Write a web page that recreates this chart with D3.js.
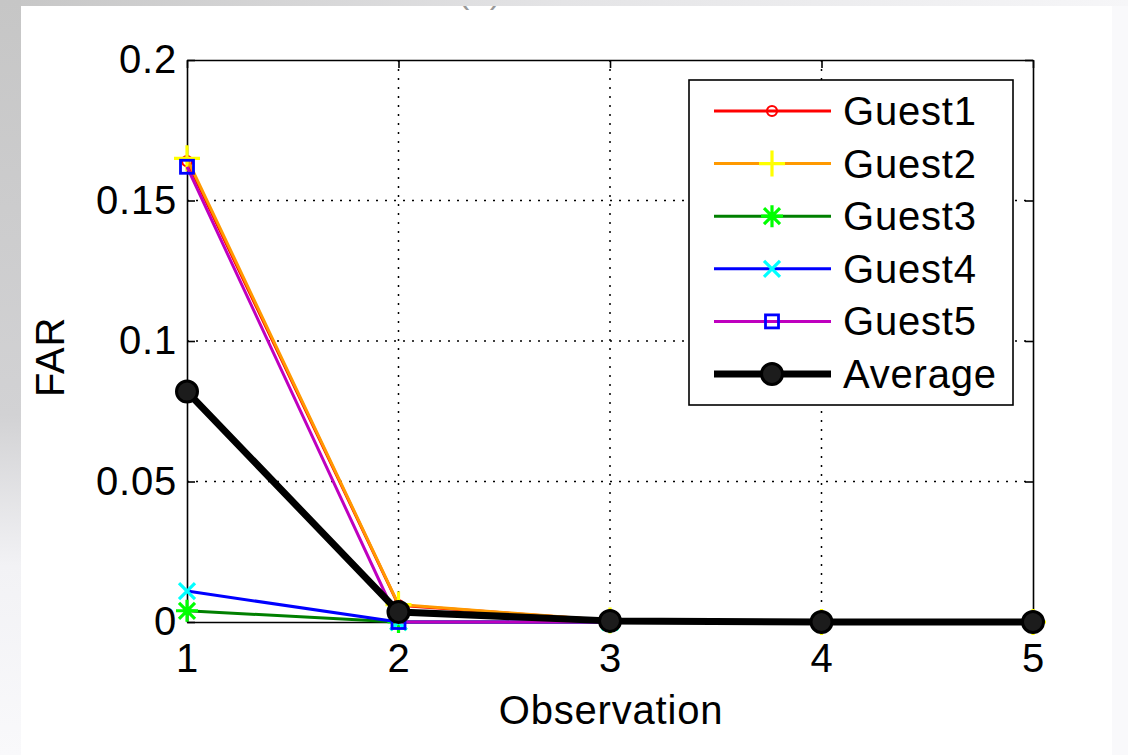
<!DOCTYPE html>
<html>
<head>
<meta charset="utf-8">
<script src="https://cdn.jsdelivr.net/npm/d3@7/dist/d3.min.js"></script>
<style>
  html, body { margin: 0; padding: 0; background: #fff; }
  svg { display: block; }
  text { font-family: "Liberation Sans", Arial, sans-serif; fill: #000; letter-spacing: 0.8px; }
</style>
</head>
<body>
<svg id="chart" width="1128" height="755"></svg>
<script>
// Observations on the x axis
const observations = [1, 2, 3, 4, 5];

// False acceptance rate per guest and their average
const guest1 = [0.164, 0.006, 0.0005, 0, 0];
const guest2 = [0.165, 0.0062, 0.0005, 0, 0];
const guest3 = [0.004, 0, 0, 0, 0];
const guest4 = [0.011, 0, 0, 0, 0];
const guest5 = [0.162, 0, 0, 0, 0];
const average = [0.082, 0.0036, 0.0004, 0, 0];

const seriesNames = ["Guest1", "Guest2", "Guest3", "Guest4", "Guest5", "Average"];
const xTicks = [1, 2, 3, 4, 5];
const yTicks = [0, 0.05, 0.1, 0.15, 0.2];
const yTickLabels = ["0", "0.05", "0.1", "0.15", "0.2"];

const series = [
  { name: seriesNames[0], values: guest1, line: "#ff0000", mark: "#ff0000", shape: "circle", width: 3 },
  { name: seriesNames[1], values: guest2, line: "#ff9900", mark: "#ffff00", shape: "plus", width: 3 },
  { name: seriesNames[2], values: guest3, line: "#008000", mark: "#00ff00", shape: "star", width: 3 },
  { name: seriesNames[3], values: guest4, line: "#0000ff", mark: "#00ffff", shape: "cross", width: 3 },
  { name: seriesNames[4], values: guest5, line: "#bf00bf", mark: "#0000ff", shape: "square", width: 3 },
  { name: seriesNames[5], values: average, line: "#000000", mark: "#000000", shape: "dot", width: 7 }
];

const FONT = 40;

const svg = d3.select("#chart");
const defs = svg.append("defs");

// Backdrop: grey frame around a white sheet
const leftGrad = defs.append("linearGradient").attr("id", "leftGrad")
  .attr("x1", 0).attr("y1", 0).attr("x2", 0).attr("y2", 1);
leftGrad.append("stop").attr("offset", "0%").attr("stop-color", "#c6c6c6");
leftGrad.append("stop").attr("offset", "55%").attr("stop-color", "#d2d2d4");
leftGrad.append("stop").attr("offset", "75%").attr("stop-color", "#f2f2f5");
leftGrad.append("stop").attr("offset", "100%").attr("stop-color", "#f9f9fb");
const topGrad = defs.append("linearGradient").attr("id", "topGrad")
  .attr("x1", 0).attr("y1", 0).attr("x2", 1).attr("y2", 0);
topGrad.append("stop").attr("offset", "0%").attr("stop-color", "#c6c6c6");
topGrad.append("stop").attr("offset", "50%").attr("stop-color", "#e4e4e6");
topGrad.append("stop").attr("offset", "100%").attr("stop-color", "#f6f6f8");

svg.append("rect").attr("x", 0).attr("y", 0).attr("width", 1128).attr("height", 755).attr("fill", "#f9f9fb");
svg.append("rect").attr("x", 0).attr("y", 0).attr("width", 1128).attr("height", 6).attr("fill", "url(#topGrad)");
svg.append("rect").attr("x", 0).attr("y", 0).attr("width", 21).attr("height", 755).attr("fill", "url(#leftGrad)");

const sheet = { x: 21, y: 6, w: 1091, h: 749 };
defs.append("clipPath").attr("id", "sheetClip").append("rect")
  .attr("x", sheet.x).attr("y", sheet.y).attr("width", sheet.w).attr("height", sheet.h);
const page = svg.append("g").attr("clip-path", "url(#sheetClip)");
page.append("rect").attr("x", sheet.x).attr("y", sheet.y).attr("width", sheet.w).attr("height", sheet.h).attr("fill", "#fff");

// Panel caption, mostly above the sheet edge
page.append("text").attr("x", 480).attr("y", 3).attr("text-anchor", "middle")
  .attr("font-size", 34).style("fill", "#999").text("(a)");

const plot = { left: 187, right: 1033, top: 60, bottom: 622 };
const x = d3.scaleLinear().domain([1, 5]).range([plot.left, plot.right]);
const y = d3.scaleLinear().domain([0, 0.2]).range([plot.bottom, plot.top]);

const g = page.append("g");

// Dotted grid
g.append("g").selectAll("line").data(xTicks.slice(1, -1)).join("line")
  .attr("x1", d => x(d)).attr("x2", d => x(d)).attr("y1", plot.top).attr("y2", plot.bottom)
  .attr("stroke", "#000").attr("stroke-width", 1.5).attr("stroke-dasharray", "2,7");
g.append("g").selectAll("line").data(yTicks.slice(1, -1)).join("line")
  .attr("y1", d => y(d)).attr("y2", d => y(d)).attr("x1", plot.left).attr("x2", plot.right)
  .attr("stroke", "#000").attr("stroke-width", 1.5).attr("stroke-dasharray", "2,7");

// Axes with inward ticks on all four sides
const fmtY = d => yTickLabels[yTicks.indexOf(d)];
const axisB = g.append("g").attr("transform", `translate(0,${plot.bottom})`)
  .call(d3.axisBottom(x).tickValues(xTicks).tickFormat(d3.format("d")).tickSizeInner(-8).tickSizeOuter(0).tickPadding(22));
const axisT = g.append("g").attr("transform", `translate(0,${plot.top})`)
  .call(d3.axisTop(x).tickValues(xTicks).tickFormat("").tickSizeInner(-8).tickSizeOuter(0));
const axisL = g.append("g").attr("transform", `translate(${plot.left},0)`)
  .call(d3.axisLeft(y).tickValues(yTicks).tickFormat(fmtY).tickSizeInner(-8).tickSizeOuter(0).tickPadding(10));
const axisR = g.append("g").attr("transform", `translate(${plot.right},0)`)
  .call(d3.axisRight(y).tickValues(yTicks).tickFormat("").tickSizeInner(-8).tickSizeOuter(0));
[axisB, axisT, axisL, axisR].forEach(a => {
  a.select(".domain").attr("stroke", "#000").attr("stroke-width", 1.6);
  a.selectAll(".tick line").attr("stroke", "#000").attr("stroke-width", 1.6);
  a.selectAll("text").attr("font-size", FONT).attr("font-family", "Liberation Sans, Arial, sans-serif").attr("fill", "#000");
});
axisB.selectAll("text").attr("dy", "0.71em");

// Axis titles
g.append("text").attr("x", (plot.left + plot.right) / 2 + 1).attr("y", 724)
  .attr("text-anchor", "middle").attr("font-size", FONT).text("Observation");
g.append("text").attr("transform", `translate(64,${(plot.top + plot.bottom) / 2 + 16}) rotate(-90)`)
  .attr("text-anchor", "middle").attr("font-size", FONT).text("FAR");

// Marker drawing
function drawMarker(sel, shape, color) {
  if (shape === "circle") {
    sel.append("circle").attr("r", 5).attr("fill", "none").attr("stroke", color).attr("stroke-width", 2.2);
  } else if (shape === "plus") {
    sel.append("path").attr("d", "M-13,0H13M0,-13V13").attr("stroke", color).attr("stroke-width", 3.2).attr("fill", "none");
  } else if (shape === "star") {
    sel.append("path").attr("d", "M-11,0H11M0,-11V11M-8,-8L8,8M-8,8L8,-8").attr("stroke", color).attr("stroke-width", 3.2).attr("fill", "none");
  } else if (shape === "cross") {
    sel.append("path").attr("d", "M-8,-8L8,8M-8,8L8,-8").attr("stroke", color).attr("stroke-width", 3.2).attr("fill", "none");
  } else if (shape === "square") {
    sel.append("rect").attr("x", -6.5).attr("y", -6.5).attr("width", 13).attr("height", 13)
      .attr("fill", "none").attr("stroke", color).attr("stroke-width", 2.8);
  } else if (shape === "dot") {
    sel.append("circle").attr("r", 10.5).attr("fill", "#1c1c1c").attr("stroke", "#000").attr("stroke-width", 3);
  }
}

const line = d3.line().x((d, i) => x(observations[i])).y(d => y(d));

// Series lines then markers, in legend order
series.forEach(s => {
  const sg = g.append("g");
  sg.append("path").datum(s.values).attr("d", line).attr("fill", "none")
    .attr("stroke", s.line).attr("stroke-width", s.width).attr("stroke-linejoin", "round");
  sg.selectAll("g.m").data(s.values).join("g").attr("class", "m")
    .attr("transform", (d, i) => `translate(${x(observations[i])},${y(d)})`)
    .each(function () { drawMarker(d3.select(this), s.shape, s.mark); });
});

// Legend
const lg = g.append("g");
lg.append("rect").attr("x", 689).attr("y", 80).attr("width", 324).attr("height", 325)
  .attr("fill", "#fff").attr("stroke", "#000").attr("stroke-width", 1.6);
const rowY = d3.scalePoint().domain(seriesNames).range([111, 374]);
series.forEach(s => {
  const ry = rowY(s.name);
  lg.append("line").attr("x1", 714).attr("x2", 831).attr("y1", ry).attr("y2", ry)
    .attr("stroke", s.line).attr("stroke-width", s.width);
  drawMarker(lg.append("g").attr("transform", `translate(772,${ry})`), s.shape, s.mark);
  lg.append("text").attr("x", 843).attr("y", ry + 14).attr("font-size", FONT).text(s.name);
});
</script>
</body>
</html>
